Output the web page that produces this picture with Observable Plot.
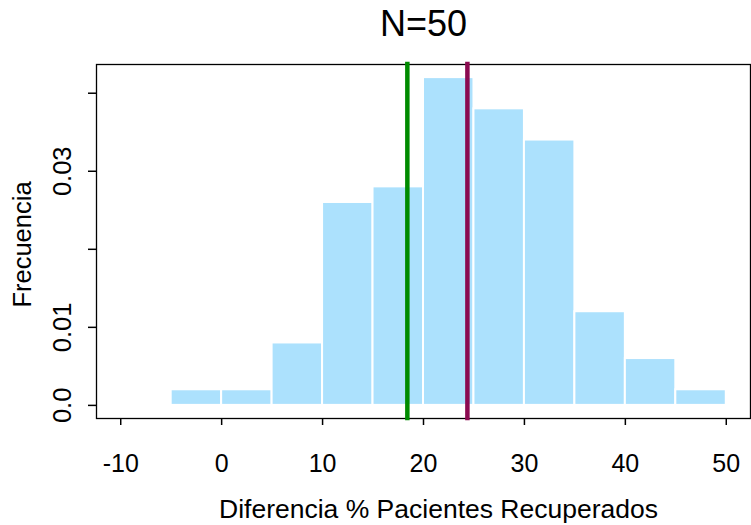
<!DOCTYPE html>
<html>
<head>
<meta charset="utf-8">
<script src="https://cdn.jsdelivr.net/npm/d3@7"></script>
<script src="https://cdn.jsdelivr.net/npm/@observablehq/plot@0.6"></script>
<style>
  html, body { margin: 0; padding: 0; background: #fff; }
  svg { display: block; }
</style>
</head>
<body>
<div id="chart"></div>
<script>
// ---- data ----
const binStart = [-5, 0, 5, 10, 15, 20, 25, 30, 35, 40, 45];
const binEnd   = [0, 5, 10, 15, 20, 25, 30, 35, 40, 45, 50];
const density  = [0.002, 0.002, 0.008, 0.026, 0.028, 0.042, 0.038, 0.034, 0.012, 0.006, 0.002];

const xTicks = [-10, 0, 10, 20, 30, 40, 50];
const xTickLabels = ["-10", "0", "10", "20", "30", "40", "50"];
const yTicks = [0, 0.01, 0.02, 0.03, 0.04];
const yTickLabels = ["0.0", "0.01", "", "0.03", ""];

const lineValues = [18.4, 24.35];
const lineColors = ["#008B00", "#8B0A50"];

const titleText = "N=50";
const xTitle = "Diferencia % Pacientes Recuperados";
const yTitle = "Frecuencia";

// table built from the arrays
const bins = binStart.map((s, i) => ({x1: s, x2: binEnd[i], y: density[i]}));
const lines = lineValues.map((v, i) => ({x: v, color: lineColors[i]}));
const yLabelRows = yTicks.map((v, i) => ({y: v, label: yTickLabels[i]}));

const font = "'Liberation Sans', Arial, Helvetica, sans-serif";

const chart = Plot.plot({
  width: 751,
  height: 525,
  marginLeft: 96,
  marginRight: 1,
  marginTop: 64,
  marginBottom: 107,
  style: {fontFamily: font, background: "#fff", color: "#000", overflow: "visible"},
  x: {domain: [-12.4, 52.4]},
  y: {domain: [-0.00168, 0.04368]},
  marks: [
    Plot.rect(bins, {x1: "x1", x2: "x2", y1: 0, y2: "y", fill: "#ACE1FD", stroke: "#fff", strokeWidth: 2}),
    Plot.frame({stroke: "#000", strokeWidth: 1.3}),
    Plot.axisX({
      ticks: xTicks,
      tickFormat: (d) => xTickLabels[xTicks.indexOf(d)],
      tickSize: 7,
      tickPadding: 38,
      lineAnchor: "middle",
      fontSize: 25,
      strokeWidth: 1.5,
      label: null
    }),
    Plot.axisY({
      ticks: yTicks,
      tickFormat: () => "",
      tickSize: 8,
      strokeWidth: 1.5,
      label: null
    }),
    Plot.text(yLabelRows, {y: "y", text: "label", frameAnchor: "left", dx: -34, rotate: -90, textAnchor: "middle", lineAnchor: "middle", fontSize: 25.5}),
    Plot.ruleX(lines, {x: "x", stroke: "color", strokeWidth: 4.5, strokeLinecap: "square"}),
    Plot.text([titleText], {frameAnchor: "top", dy: -40, text: d => d, fontSize: 36, textAnchor: "middle", lineAnchor: "middle"}),
    Plot.text([xTitle], {frameAnchor: "bottom", dx: 15, dy: 91, text: d => d, fontSize: 26.5, textAnchor: "middle", lineAnchor: "middle"}),
    Plot.text([yTitle], {frameAnchor: "left", dx: -73.5, dy: 3, text: d => d, fontSize: 25.5, rotate: -90, textAnchor: "middle", lineAnchor: "middle"})
  ]
});
document.getElementById("chart").appendChild(chart);
</script>
</body>
</html>
